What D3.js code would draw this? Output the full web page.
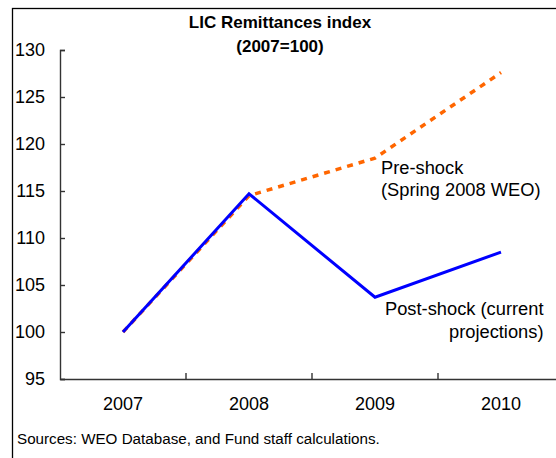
<!DOCTYPE html>
<html lang="en">
<head>
<meta charset="UTF-8">
<title>LIC Remittances index</title>
<script src="https://d3js.org/d3.v7.min.js"></script>
<style>
  * { margin: 0; padding: 0; }
  body { background: #fff; }
  svg { display: block; font-family: "Liberation Sans", Arial, sans-serif; }
</style>
</head>
<body>
<svg width="556" height="458"></svg>
<script>
// data
var years = ["2007", "2008", "2009", "2010"];
var postShock = [100, 114.7, 103.7, 108.5];
var preShock = [100, 114.5, 118.5, 127.6];
var yTicks = [95, 100, 105, 110, 115, 120, 125, 130];

var svg = d3.select("svg");
var width = 556, height = 458;

// outer frame, cut off on the right and bottom like the source
svg.append("rect")
  .attr("x", 12.5).attr("y", 8.5)
  .attr("width", 600).attr("height", 500)
  .attr("fill", "none")
  .attr("stroke", "#000")
  .attr("stroke-width", 1.3);

var x = d3.scaleBand().domain(years).range([60, 564]).padding(0);
var y = d3.scaleLinear().domain([95, 130]).range([379, 50]);

// title
var title = svg.append("text")
  .attr("text-anchor", "middle")
  .attr("font-weight", "bold")
  .attr("font-size", 17);
title.append("tspan").attr("x", 280).attr("y", 27.5).text("LIC Remittances index");
title.append("tspan").attr("x", 280).attr("y", 52).text("(2007=100)");

// y axis, ticks pointing inward
var yAxis = svg.append("g")
  .attr("transform", "translate(60,0)")
  .call(d3.axisLeft(y).tickValues(yTicks).tickSize(-5).tickPadding(15).tickFormat(d3.format("d")));

// x axis: labels at band centres, ticks at band edges
var xAxis = svg.append("g")
  .attr("transform", "translate(0,379)")
  .call(d3.axisBottom(x).tickSize(0).tickPadding(18.5));

xAxis.selectAll(".edge")
  .data(years.slice(1))
  .enter()
  .append("line")
  .attr("class", "edge")
  .attr("x1", function (d) { return x(d); })
  .attr("x2", function (d) { return x(d); })
  .attr("y1", 0)
  .attr("y2", -6);

[yAxis, xAxis].forEach(function (g) {
  g.selectAll("path, line").attr("stroke", "#333").attr("stroke-width", 1.4);
  g.selectAll("text").attr("fill", "#000").attr("font-size", 18)
    .attr("font-family", "Liberation Sans, Arial, sans-serif");
});

var line = d3.line()
  .x(function (d, i) { return x(years[i]) + x.bandwidth() / 2; })
  .y(function (d) { return y(d); });

// pre-shock first, post-shock on top
svg.append("path")
  .datum(preShock)
  .attr("d", line)
  .attr("fill", "none")
  .attr("stroke", "#ff6600")
  .attr("stroke-width", 3.5)
  .attr("stroke-dasharray", "6,6");

svg.append("path")
  .datum(postShock)
  .attr("d", line)
  .attr("fill", "none")
  .attr("stroke", "#0000ff")
  .attr("stroke-width", 3)
  .attr("stroke-linejoin", "miter");

// annotations
var pre = svg.append("text").attr("font-size", 18.3).attr("fill", "#000");
pre.append("tspan").attr("x", 381).attr("y", 174).text("Pre-shock");
pre.append("tspan").attr("x", 381).attr("y", 196).text("(Spring 2008 WEO)");

var post = svg.append("text").attr("font-size", 18.3).attr("fill", "#000").attr("text-anchor", "end");
post.append("tspan").attr("x", 543.5).attr("y", 314.5).text("Post-shock (current");
post.append("tspan").attr("x", 543.5).attr("y", 337.5).text("projections)");

// source note
svg.append("text")
  .attr("x", 17).attr("y", 444)
  .attr("font-size", 15.2)
  .attr("fill", "#000")
  .text("Sources: WEO Database, and Fund staff calculations.");
</script>
</body>
</html>
